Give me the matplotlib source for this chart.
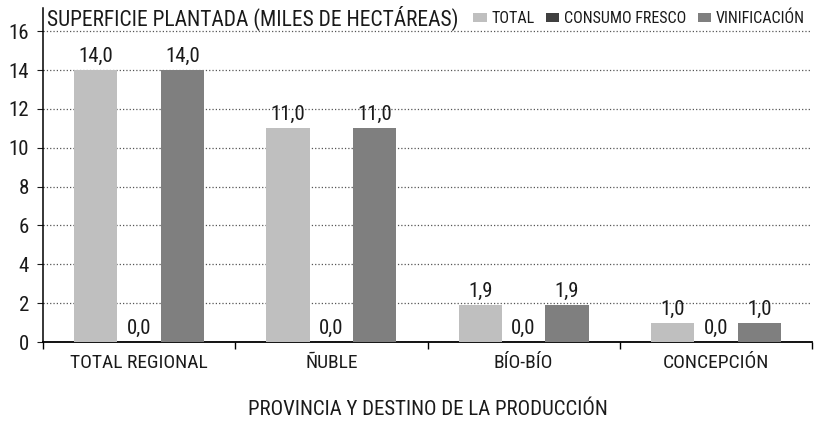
import matplotlib.pyplot as plt
import numpy as np

plt.rcParams['font.family'] = ['Roboto Condensed', 'Roboto', 'DejaVu Sans']

provincias = ['TOTAL REGIONAL', 'ÑUBLE', 'BÍO-BÍO', 'CONCEPCIÓN']
series = ['TOTAL', 'CONSUMO FRESCO', 'VINIFICACIÓN']
total = [14.0, 11.0, 1.9, 1.0]
consumo_fresco = [0.0, 0.0, 0.0, 0.0]
vinificacion = [14.0, 11.0, 1.9, 1.0]
colores = ['#bfbfbf', '#404040', '#7f7f7f']
texto = '#1a1a1a'

fig = plt.figure(figsize=(8.27, 4.22), dpi=100)
# el eje izquierdo sube hasta el título (por eso el límite superior es 17.2)
ax = fig.add_axes([43 / 827, 1 - 342 / 422, 769 / 827, 334 / 422])

x = np.arange(len(provincias))
ancho = 0.225
barras = []
for i, (valores, nombre) in enumerate(zip([total, consumo_fresco, vinificacion], series)):
    b = ax.bar(x + (i - 1) * ancho, valores, ancho, color=colores[i], label=nombre, zorder=3)
    ax.bar_label(b, labels=[f"{v:.1f}".replace('.', ',') for v in valores],
                 padding=3, fontsize=15, color=texto)
    barras.append(b)

ax.set_xlim(-0.5, len(provincias) - 0.5)
ax.set_ylim(0, 17.2)
ax.set_yticks(range(0, 17, 2))
ax.tick_params(axis='y', labelsize=15, length=4, colors=texto, pad=6)
ax.set_xticks(x)
ax.set_xticklabels(provincias, fontsize=14, color=texto)
ax.tick_params(axis='x', which='major', length=0, pad=9)
ax.set_xticks(np.arange(-0.5, len(provincias), 1.0), minor=True)
ax.tick_params(axis='x', which='minor', length=5, width=1)
ax.grid(axis='y', linestyle=':', color='#555555', linewidth=0.9, zorder=0)

for lado in ['top', 'right']:
    ax.spines[lado].set_visible(False)
ax.spines['left'].set_linewidth(1.1)
ax.spines['bottom'].set_linewidth(1.3)

ax.set_xlabel('PROVINCIA Y DESTINO DE LA PRODUCCIÓN', fontsize=15, color=texto, labelpad=20)

fig.text(47 / 827, 1 - 18 / 422, 'SUPERFICIE PLANTADA (MILES DE HECTÁREAS)',
         fontsize=15.5, va='center', ha='left', color=texto)
fig.legend(handles=barras, loc='center right', bbox_to_anchor=(813 / 827, 1 - 18 / 422),
           ncol=3, frameon=False, fontsize=11.5, handlelength=0.85, handleheight=0.5,
           handletextpad=0.3, columnspacing=0.7, borderpad=0, labelcolor=texto)

fig.savefig('out.png', dpi=100)
